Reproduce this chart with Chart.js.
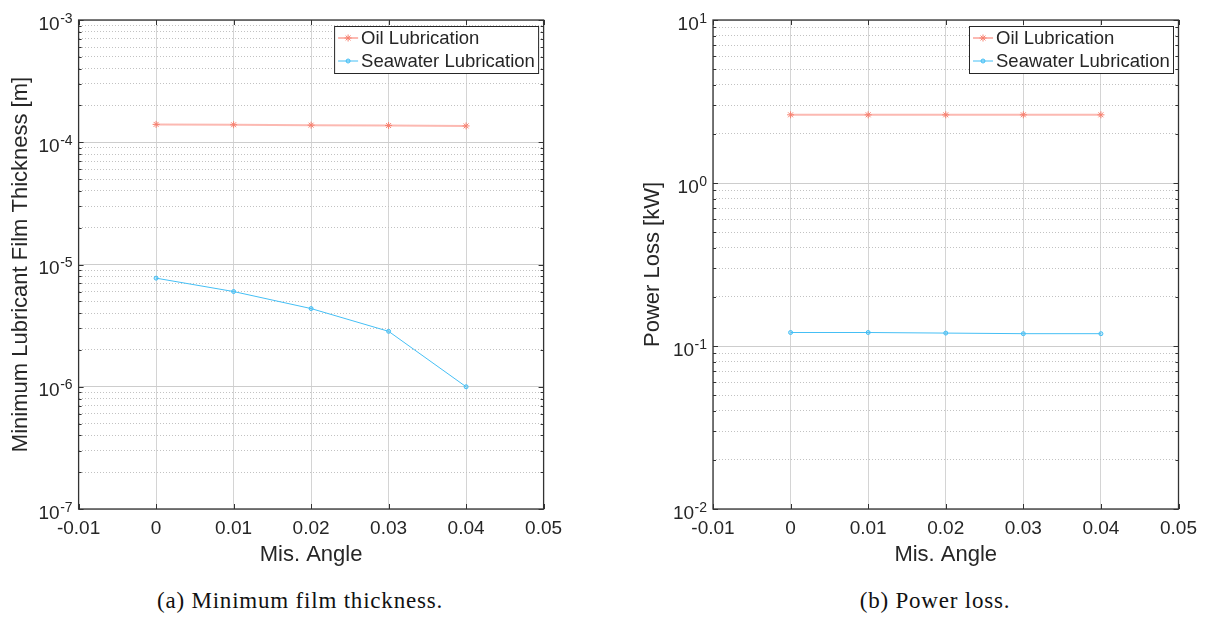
<!DOCTYPE html>
<html>
<head>
<meta charset="utf-8">
<script src="https://cdn.jsdelivr.net/npm/chart.js@4.4.0/dist/chart.umd.min.js"></script>
<style>
    html, body { margin: 0; padding: 0; background: #fff; }
    body { width: 1206px; height: 617px; position: relative; overflow: hidden; }
    .panel { position: absolute; top: 0; height: 572px; }
    .caption {
        position: absolute; top: 589px; height: 24px; line-height: 24px;
        font-family: "Liberation Serif", "Times New Roman", serif;
        font-size: 23px; letter-spacing: 0.8px; color: #111; text-align: center;
    }
</style>
</head>
<body>
<div class="panel" style="left:0;width:600px"><canvas id="filmChart" width="600" height="572"></canvas></div>
<div class="panel" style="left:603px;width:603px"><canvas id="powerChart" width="603" height="572"></canvas></div>
<div class="caption" style="left:0;width:600px">(a) Minimum film thickness.</div>
<div class="caption" style="left:735px;width:400px">(b) Power loss.</div>

<script>
// ---- data ----
const misAngle = [0, 0.01, 0.02, 0.03, 0.04];
const xTicks = [-0.01, 0, 0.01, 0.02, 0.03, 0.04, 0.05];

const filmOil = [1.40e-4, 1.39e-4, 1.38e-4, 1.37e-4, 1.36e-4];
const filmSea = [7.73e-6, 6.01e-6, 4.36e-6, 2.84e-6, 1.00e-6];
const filmDecades = [-7, -6, -5, -4, -3];

const powerOil = [2.62, 2.62, 2.62, 2.62, 2.62];
const powerSea = [0.121, 0.121, 0.120, 0.119, 0.119];
const powerDecades = [-2, -1, 0, 1];

const seriesLabels = ['Oil Lubrication', 'Seawater Lubrication'];

const SANS = '"Liberation Sans", Arial, Helvetica, sans-serif';
const TEXT = '#262626';
const OIL_LINE = 'rgba(250, 128, 114, 0.55)';
const OIL_MARK = '#f7806f';
const SEA_LINE = '#45bff5';

// log ticks 1..9 x 10^k for the grid
function logTicks(decades) {
    const out = [];
    for (let i = 0; i < decades.length; i++) {
        const e = decades[i];
        if (i === decades.length - 1) { out.push(Math.pow(10, e)); break; }
        for (let k = 1; k <= 9; k++) out.push(k * Math.pow(10, e));
    }
    return out;
}

const isMajor = (v) => Math.abs(Math.log10(v) - Math.round(Math.log10(v))) < 1e-9;

function points(ys) {
    return misAngle.map((x, i) => ({ x: x, y: ys[i] }));
}

// MATLAB style frame, inward ticks, y labels with exponents and boxed legend
const matlabAxes = {
    id: 'matlabAxes',
    afterDraw(chart) {
        const ctx = chart.ctx;
        const a = chart.chartArea;
        const xs = chart.scales.x;
        const ys = chart.scales.y;
        ctx.save();

        // inward tick marks
        ctx.strokeStyle = '#333';
        ctx.lineWidth = 1;
        ctx.beginPath();
        xs.ticks.forEach(t => {
            const px = Math.round(xs.getPixelForValue(t.value)) + 0.5;
            ctx.moveTo(px, a.bottom); ctx.lineTo(px, a.bottom - 5);
            ctx.moveTo(px, a.top); ctx.lineTo(px, a.top + 5);
        });
        ys.ticks.forEach(t => {
            const py = Math.round(ys.getPixelForValue(t.value)) + 0.5;
            const len = isMajor(t.value) ? 5 : 3;
            ctx.moveTo(a.left, py); ctx.lineTo(a.left + len, py);
            ctx.moveTo(a.right, py); ctx.lineTo(a.right - len, py);
        });
        ctx.stroke();

        // box
        ctx.strokeStyle = '#333';
        ctx.lineWidth = 1.3;
        ctx.strokeRect(a.left, a.top, a.right - a.left, a.bottom - a.top);

        // y tick labels 10^n
        ctx.fillStyle = TEXT;
        ctx.textAlign = 'right';
        ctx.textBaseline = 'alphabetic';
        ys.ticks.forEach(t => {
            if (!isMajor(t.value)) return;
            const py = ys.getPixelForValue(t.value);
            const exp = String(Math.round(Math.log10(t.value)));
            ctx.font = '14px ' + SANS;
            const ew = ctx.measureText(exp).width;
            ctx.fillText(exp, a.left - 6, py + 2.5);
            ctx.font = '19px ' + SANS;
            ctx.fillText('10', a.left - 6 - ew - 0.5, py + 9.5);
        });

        // legend box in upper right corner
        const ds = chart.data.datasets;
        const bw = 204, bh = 47;
        const bx = a.right - 5.5 - bw, by = 26;
        ctx.fillStyle = '#fff';
        ctx.fillRect(bx, by, bw, bh);
        ctx.strokeStyle = '#262626';
        ctx.lineWidth = 1;
        ctx.strokeRect(bx + 0.5, by + 0.5, bw, bh);
        ds.forEach((d, i) => {
            const ry = by + 12 + i * 23;
            ctx.strokeStyle = d.borderColor;
            ctx.lineWidth = d.borderWidth;
            ctx.beginPath();
            ctx.moveTo(bx + 4, ry); ctx.lineTo(bx + 24, ry);
            ctx.stroke();
            drawMarker(ctx, d, bx + 14, ry);
            ctx.fillStyle = TEXT;
            ctx.font = '18.5px ' + SANS;
            ctx.textAlign = 'left';
            ctx.textBaseline = 'middle';
            ctx.fillText(d.label, bx + 27, ry + 1);
        });
        ctx.restore();
    }
};

function drawMarker(ctx, d, x, y) {
    const r = d.pointRadius;
    ctx.save();
    ctx.strokeStyle = d.pointBorderColor;
    ctx.fillStyle = d.pointBackgroundColor;
    ctx.lineWidth = d.pointBorderWidth;
    ctx.beginPath();
    if (d.pointStyle === 'star') {
        ctx.moveTo(x - r, y); ctx.lineTo(x + r, y);
        ctx.moveTo(x, y - r); ctx.lineTo(x, y + r);
        const q = r * 0.7;
        ctx.moveTo(x - q, y - q); ctx.lineTo(x + q, y + q);
        ctx.moveTo(x - q, y + q); ctx.lineTo(x + q, y - q);
    } else {
        ctx.arc(x, y, r, 0, Math.PI * 2);
        ctx.fill();
    }
    ctx.stroke();
    ctx.restore();
}

function makeChart(id, cfg) {
    const ticksY = logTicks(cfg.decades);
    return new Chart(document.getElementById(id), {
        type: 'line',
        data: {
            datasets: [
                {
                    label: seriesLabels[0],
                    data: points(cfg.oil),
                    borderColor: OIL_LINE,
                    borderWidth: 2,
                    pointStyle: 'star',
                    pointRadius: 3.5,
                    pointBorderColor: OIL_MARK,
                    pointBackgroundColor: OIL_MARK,
                    pointBorderWidth: 1,
                    tension: 0
                },
                {
                    label: seriesLabels[1],
                    data: points(cfg.sea),
                    borderColor: SEA_LINE,
                    borderWidth: 1,
                    pointStyle: 'circle',
                    pointRadius: 2,
                    pointBorderColor: SEA_LINE,
                    pointBackgroundColor: 'rgba(69, 191, 245, 0.35)',
                    pointBorderWidth: 1,
                    tension: 0
                }
            ]
        },
        options: {
            responsive: false,
            animation: false,
            devicePixelRatio: 1,
            layout: { padding: { top: 20, right: cfg.padRight, left: 0, bottom: 0 } },
            plugins: {
                legend: { display: false },
                tooltip: { enabled: false }
            },
            scales: {
                x: {
                    type: 'linear',
                    min: -0.01,
                    max: 0.05,
                    afterBuildTicks: (axis) => { axis.ticks = xTicks.map(v => ({ value: v })); },
                    afterFit: (axis) => { axis.height = 63; },
                    ticks: {
                        autoSkip: false,
                        maxRotation: 0,
                        padding: 8,
                        color: TEXT,
                        font: { family: SANS, size: 19 },
                        callback: (v) => String(Number(v.toFixed(2)))
                    },
                    grid: { color: '#d4d4d4', lineWidth: 1, drawTicks: false },
                    border: { display: false },
                    title: {
                        display: true,
                        text: 'Mis. Angle',
                        color: TEXT,
                        font: { family: SANS, size: 22 },
                        padding: { top: 4, bottom: 4 }
                    }
                },
                y: {
                    type: 'logarithmic',
                    min: Math.pow(10, cfg.decades[0]),
                    max: Math.pow(10, cfg.decades[cfg.decades.length - 1]),
                    afterBuildTicks: (axis) => { axis.ticks = ticksY.map(v => ({ value: v })); },
                    afterFit: (axis) => { axis.width = cfg.axisWidth; },
                    ticks: { display: false, autoSkip: false },
                    grid: {
                        drawTicks: false,
                        lineWidth: 1,
                        color: (c) => isMajor(c.tick.value) ? '#cdcdcd' : '#c2c2c2'
                    },
                    border: {
                        display: false,
                        dash: (c) => (c.tick && !isMajor(c.tick.value)) ? [1, 2] : []
                    },
                    title: {
                        display: true,
                        text: cfg.yTitle,
                        color: TEXT,
                        font: { family: SANS, size: 22 },
                        padding: { top: cfg.titlePad, bottom: 0 }
                    }
                }
            }
        },
        plugins: [matlabAxes]
    });
}

makeChart('filmChart', {
    oil: filmOil,
    sea: filmSea,
    decades: filmDecades,
    yTitle: 'Minimum Lubricant Film Thickness [m]',
    axisWidth: 78.6,
    padRight: 56.4,
    titlePad: 8
});

makeChart('powerChart', {
    oil: powerOil,
    sea: powerSea,
    decades: powerDecades,
    yTitle: 'Power Loss [kW]',
    axisWidth: 110,
    padRight: 27.5,
    titlePad: 37
});
</script>
</body>
</html>
